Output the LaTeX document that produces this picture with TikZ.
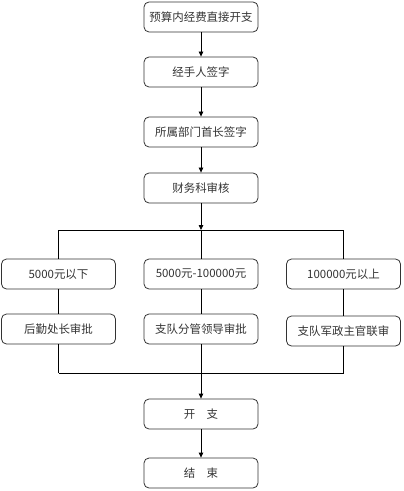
\documentclass[tikz,border=0pt]{standalone}
\usepackage{fontspec}
\setmainfont{Noto Sans CJK SC}
\usetikzlibrary{arrows.meta}
\begin{document}
\begin{tikzpicture}
[
 x=1bp, y=-1bp,
 every node/.style={font=\fontsize{11.5}{13}\selectfont, text=black!80},
 BOX/.style={rectangle, rounded corners=5bp, draw=black!80, line width=0.8bp, minimum width=114bp, minimum height=30bp, inner sep=0pt},
 LINK/.style={draw=black, line width=0.8bp},
 ARR/.style={draw=black, line width=0.8bp, -{Triangle[length=5bp,width=4.5bp]}},
 ]
%
\useasboundingbox (0,0) rectangle (403,491);
%
\node [BOX]  (BUDGET) at (201, 17)  {预算内经费直接开支};
\node [BOX]  (HAND)   at (201, 72)  {经手人签字};
\node [BOX]  (DEPT)   at (201,132)  {所属部门首长签字};
\node [BOX]  (FIN)    at (201,188)  {财务科审核};
%
\node [BOX]  (L1)     at ( 58.5,274)  {5000元以下};
\node [BOX]  (M1)     at (201,274)    {5000元-100000元};
\node [BOX]  (R1)     at (343.5,274)  {100000元以上};
%
\node [BOX]  (L2)     at ( 58.5,329)  {后勤处长审批};
\node [BOX]  (M2)     at (201,329)    {支队分管领导审批};
\node [BOX]  (R2)     at (343.5,331)  {支队军政主官联审};
%
\node [BOX]  (PAY)    at (201,414)  {开\quad 支};
\node [BOX]  (END)    at (201,473)  {结\quad 束};
%
\coordinate (TOPM) at (201,230);
\coordinate (TOPL) at (58.5,230);
\coordinate (TOPR) at (343.5,230);
\coordinate (BOTM) at (201,373);
\coordinate (BOTL) at (58.5,373);
\coordinate (BOTR) at (343.5,373);
%
\draw [ARR]  (BUDGET.south) -- (HAND.north) ;
\draw [ARR]  (HAND.south)   -- (DEPT.north) ;
\draw [ARR]  (DEPT.south)   -- (FIN.north) ;
\draw [ARR]  (FIN.south)    -- (TOPM) ;
%
\draw [LINK] (TOPL) -- (TOPR) ;
\draw [LINK] (TOPL) -- (L1.north) ;
\draw [LINK] (TOPM) -- (M1.north) ;
\draw [LINK] (TOPR) -- (R1.north) ;
%
\draw [LINK] (L1.south) -- (L2.north) ;
\draw [LINK] (M1.south) -- (M2.north) ;
\draw [LINK] (R1.south) -- (R2.north) ;
%
\draw [LINK] (L2.south) -- (BOTL) ;
\draw [LINK] (R2.south) -- (BOTR) ;
\draw [LINK] (BOTL) -- (BOTR) ;
%
\draw [ARR]  (M2.south)  -- (PAY.north) ;
\draw [ARR]  (PAY.south) -- (END.north) ;
%
\end{tikzpicture}
\end{document}
